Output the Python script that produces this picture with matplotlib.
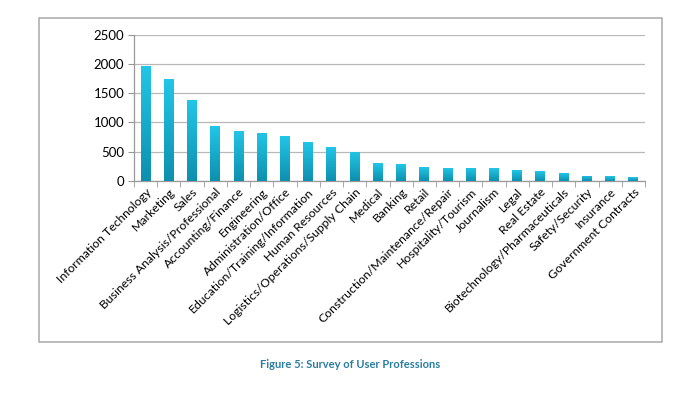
import matplotlib
matplotlib.use("Agg")
import matplotlib.pyplot as plt
import numpy as np
from matplotlib.patches import Rectangle
from matplotlib.colors import LinearSegmentedColormap

categories = ["Information Technology", "Marketing", "Sales", "Business Analysis/Professional",
              "Accounting/Finance", "Engineering", "Administration/Office",
              "Education/Training/Information", "Human Resources", "Logistics/Operations/Supply Chain",
              "Medical", "Banking", "Retail", "Construction/Maintenance/Repair",
              "Hospitality/Tourism", "Journalism", "Legal", "Real Estate",
              "Biotechnology/Pharmaceuticals", "Safety/Security", "Insurance", "Government Contracts"]
values = [1960, 1740, 1385, 938, 858, 824, 762, 664, 578, 498,
          304, 287, 240, 223, 222, 212, 183, 160, 132, 86, 82, 57]
yticks = [0, 500, 1000, 1500, 2000, 2500]
caption = "Figure 5: Survey of User Professions"

plt.rcParams['font.family'] = ['Lato', 'DejaVu Sans']

fig = plt.figure(figsize=(6.92, 3.94), dpi=100)
ax = fig.add_axes([134/692, 1-180.7/394, (645-134)/692, (180.7-35)/394])

x = np.arange(len(categories))
bars = ax.bar(x, values, width=0.43, color='#14a8c8', zorder=3)

cmap = LinearSegmentedColormap.from_list('g', ['#0e8fae', '#22c6e8'])
grad = np.linspace(0, 1, 256).reshape(-1, 1)
for b in bars:
    x0, y0 = b.get_x(), b.get_y()
    w, h = b.get_width(), b.get_height()
    im = ax.imshow(grad, extent=[x0, x0 + w, y0, y0 + h], origin='lower',
                   cmap=cmap, aspect='auto', zorder=4)
    im.set_clip_path(b)

ax.set_xlim(-0.5, len(categories) - 0.5)
ax.set_ylim(0, 2500)
ax.set_yticks(yticks)
ax.set_yticklabels([str(v) for v in yticks], fontsize=9.5)
ax.yaxis.grid(True, color='#b8b8b8', linewidth=0.9, zorder=0)
ax.set_axisbelow(True)

ax.set_xticks(x)
ax.set_xticklabels(categories, rotation=45, ha='right', rotation_mode='anchor', fontsize=8.8)
ax.tick_params(axis='x', length=0, pad=4)
ax.set_xticks(np.arange(-0.5, len(categories), 1.0), minor=True)
ax.tick_params(axis='x', which='minor', length=4, color='#999999', direction='out')
ax.tick_params(axis='y', length=4, color='#999999', pad=3)

for s in ['top', 'right']:
    ax.spines[s].set_visible(False)
ax.spines['left'].set_color('#999999')
ax.spines['bottom'].set_color('#999999')
ax.spines['left'].set_linewidth(0.9)
ax.spines['bottom'].set_linewidth(0.9)

frame = Rectangle((38.5/692, 1-342/394), (662-38.5)/692, (342-18)/394,
                  transform=fig.transFigure, fill=False, edgecolor='#a8a8a8', linewidth=1.1)
fig.patches.append(frame)

fig.text(350/692, 1-365/394, caption, ha='center', va='center', fontsize=8,
         fontweight='bold', color='#2b7d9e')

fig.savefig("out.png", dpi=100)
